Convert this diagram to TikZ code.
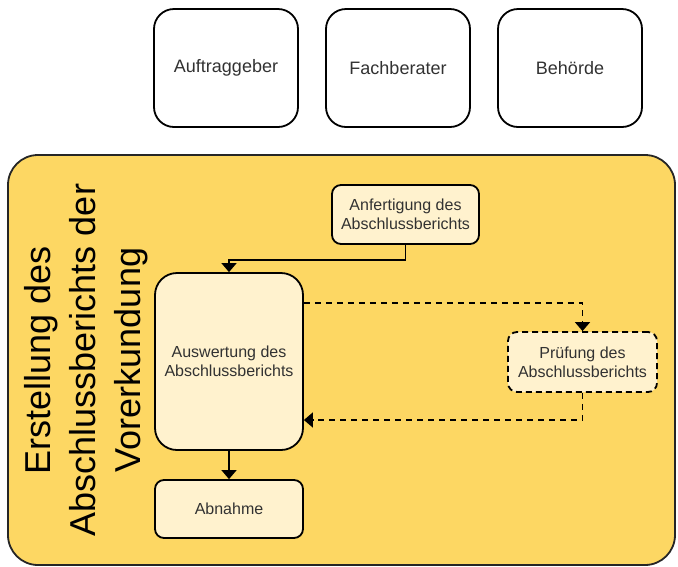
\documentclass[tikz,border=0pt]{standalone}
\usepackage{fontspec}
\setmainfont{Liberation Sans}
\usetikzlibrary{arrows.meta}
\definecolor{bigfill}{RGB}{253,215,99}
\definecolor{boxfill}{RGB}{255,242,206}
\definecolor{txt}{RGB}{50,50,50}
\begin{document}
\begin{tikzpicture}[x=1pt,y=-1pt,
  actor/.style={draw=black,line width=1.8pt,rounded corners=20pt,fill=white,text=txt,font=\fontsize{18}{21}\selectfont},
  stepbox/.style={draw=black,line width=1.8pt,fill=boxfill,text=txt,align=center,font=\fontsize{16}{19}\selectfont},
  link/.style={line width=1.6pt,-{Triangle[width=15pt,length=9pt]}},
  dlink/.style={link,dash pattern=on 6pt off 5pt}]
\useasboundingbox (0,0) rectangle (678,566);
% big container
\path[draw=black!85,line width=1.8pt,fill=bigfill,rounded corners=30pt] (8,155) rectangle (675,565);
% actors
\node[actor,minimum width=144pt,minimum height=118pt] (auf) at (226,68) {Auftraggeber};
\node[actor,minimum width=144pt,minimum height=118pt] (fach) at (398,68) {Fachberater};
\node[actor,minimum width=144pt,minimum height=118pt] (beh) at (570,68) {Behörde};
% title
\node[rotate=90,align=center,text=black,font=\fontsize{36}{45}\selectfont] (title) at (86,360) {Erstellung des\\Abschlussberichts der\\Vorerkundung};
% steps
\node[stepbox,rounded corners=9pt,minimum width=147pt,minimum height=59pt] (anf) at (405.5,214.5) {Anfertigung des\\Abschlussberichts};
\node[stepbox,rounded corners=22pt,minimum width=148pt,minimum height=177pt] (ausw) at (229,361.5) {Auswertung des\\Abschlussberichts};
\node[stepbox,rounded corners=9pt,minimum width=148pt,minimum height=58pt] (abn) at (229,509) {Abnahme};
\node[stepbox,dash pattern=on 6pt off 4pt,rounded corners=9pt,minimum width=149pt,minimum height=60pt] (pruef) at (582.5,362) {Prüfung des\\Abschlussberichts};
% connectors
\draw[link] (anf.south) -- ++(0,15) -| (ausw.north);
\draw[link] (ausw.south) -- (abn.north);
\draw[dlink] (ausw.east |- 0,303) -| (pruef.north);
\draw[dlink] (pruef.south) |- (ausw.east |- 0,420);
\end{tikzpicture}
\end{document}
